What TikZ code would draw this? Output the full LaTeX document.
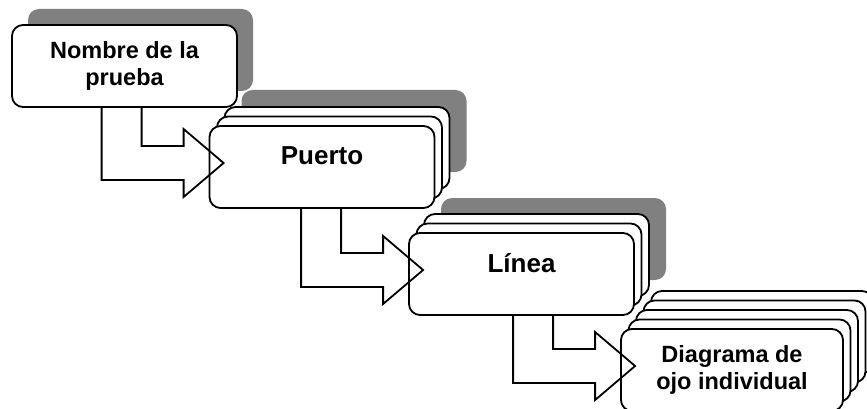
\documentclass[tikz,border=0pt]{standalone}
\usepackage{fontspec}
\setmainfont{Liberation Sans}
\usetikzlibrary{calc, shadows}

\definecolor{sombragris}{RGB}{128,128,128}

\tikzset{
    paso/.style={draw, line width=1.8pt, rounded corners=11pt, fill=white,
        minimum width=225pt, minimum height=82pt, align=center, inner sep=0pt},
    copia/.style 2 args={general shadow={shadow xshift=#1, shadow yshift=#2,
        draw=black, fill=white, line width=1.8pt}},
    sombra/.style 2 args={general shadow={shadow xshift=#1, shadow yshift=#2,
        draw=none, fill=sombragris}},
    letra/.style={font=\fontsize{23.5}{26.5}\selectfont\bfseries},
    letragrande/.style={font=\fontsize{26}{30}\selectfont\bfseries, text depth=22pt},
    flecha/.style={line width=1.8pt, line join=miter},
}

% bent block arrow from the bottom of #1 into the left side of #2
\newcommand{\flecha}[2]{%
    \draw[flecha] let \p1=(#1.south), \p2=($(#2.west)+(15,-4)$) in
        (\x2-82pt,\y1) -- (\x2-82pt,\y2+17pt) -- (\x2-40pt,\y2+17pt)
        -- (\x2-40pt,\y2+34pt) -- (\x2,\y2) -- (\x2-40pt,\y2-34pt)
        -- (\x2-40pt,\y2-17pt) -- (\x2-122pt,\y2-17pt) -- (\x2-122pt,\y1);
}

\begin{document}
\begin{tikzpicture}[x=1pt, y=-1pt]
    \useasboundingbox (0,0) rectangle (867,409);
    \clip (0,0) rectangle (867,409);

    % Niveles
    \node[paso, letra, sombra={16pt}{16pt}] (prueba) at (124.5,66) {Nombre de la\\prueba};
    \node[paso, letragrande, sombra={32pt}{36pt}, copia={15pt}{19pt}, copia={7.5pt}{9.5pt}]
        (puerto) at (322,167) {Puerto};
    \node[paso, letragrande, sombra={32pt}{35pt}, copia={15pt}{19pt}, copia={7.5pt}{9.5pt}]
        (linea) at (521.5,274) {Línea};
    \node[paso, letra, minimum width=222pt, copia={30pt}{38pt}, copia={22.5pt}{28.5pt},
        copia={15pt}{19pt}, copia={7.5pt}{9.5pt}]
        (ojo) at (732,370) {Diagrama de\\ojo individual};

    % Flechas
    \flecha{prueba}{puerto}
    \flecha{puerto}{linea}
    \flecha{linea}{ojo}
\end{tikzpicture}
\end{document}
